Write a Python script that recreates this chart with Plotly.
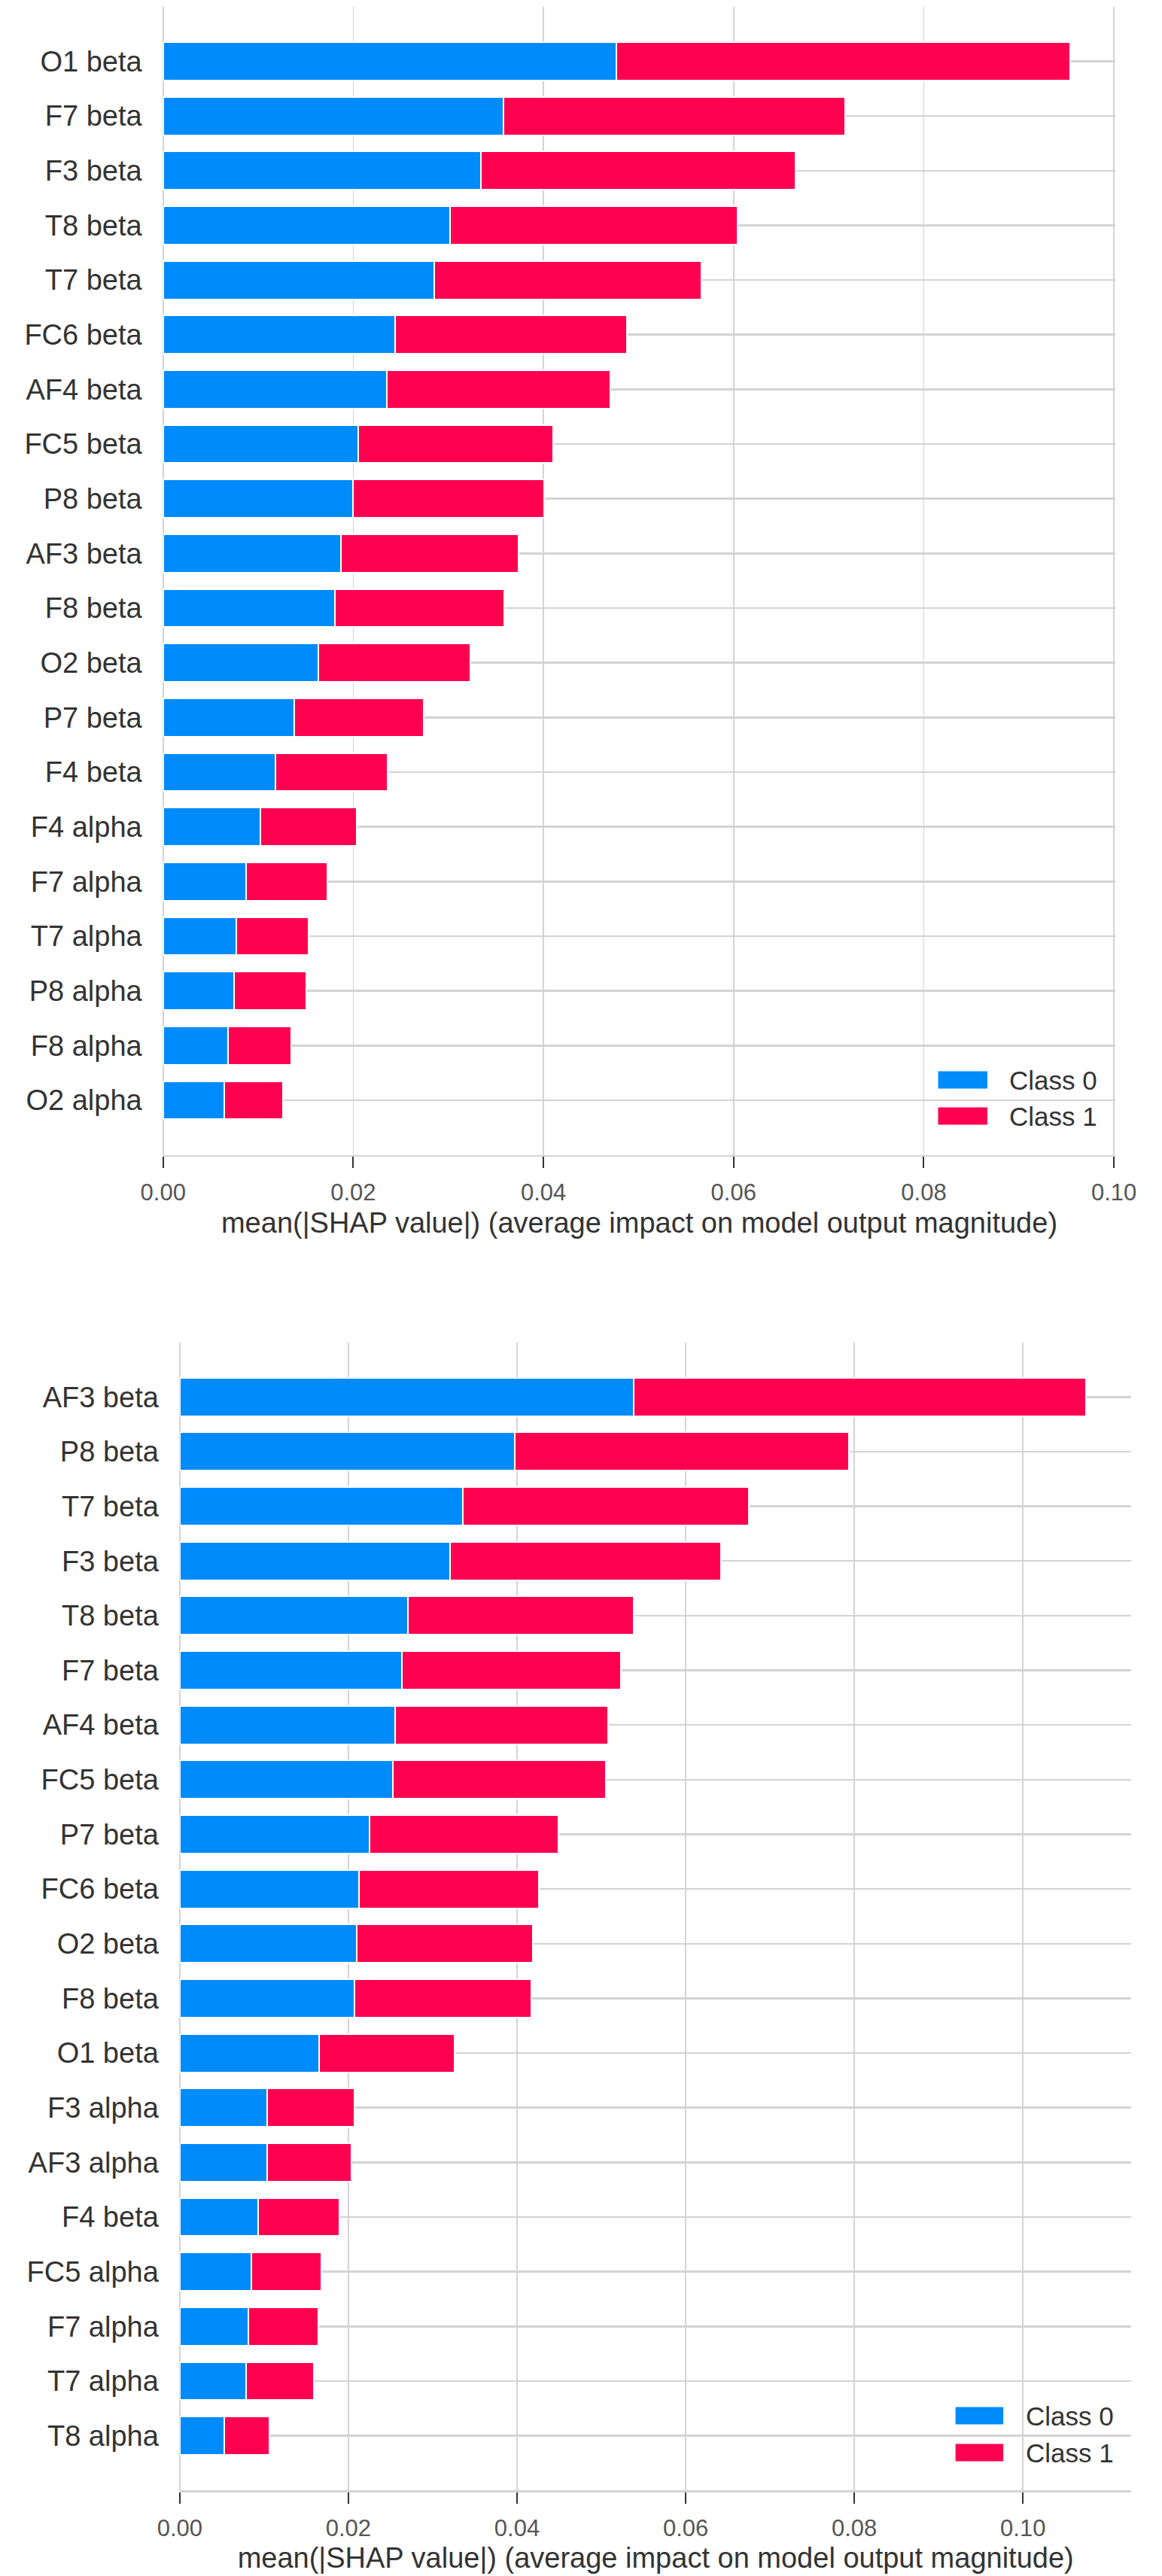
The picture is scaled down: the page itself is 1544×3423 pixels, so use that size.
import plotly.graph_objects as go

# ---------------- data ----------------
top_features = ["O1 beta", "F7 beta", "F3 beta", "T8 beta", "T7 beta", "FC6 beta", "AF4 beta",
                "FC5 beta", "P8 beta", "AF3 beta", "F8 beta", "O2 beta", "P7 beta", "F4 beta",
                "F4 alpha", "F7 alpha", "T7 alpha", "P8 alpha", "F8 alpha", "O2 alpha"]
top_class0 = [0.0477, 0.0358, 0.0334, 0.0302, 0.0285, 0.0244, 0.0235, 0.0205, 0.0200, 0.0187,
              0.0181, 0.0163, 0.0138, 0.0118, 0.0102, 0.0087, 0.0077, 0.0075, 0.0068, 0.0064]
top_class1 = [0.0477, 0.0359, 0.0331, 0.0302, 0.0281, 0.0244, 0.0235, 0.0205, 0.0201, 0.0187,
              0.0178, 0.0160, 0.0136, 0.0118, 0.0102, 0.0086, 0.0076, 0.0076, 0.0067, 0.0062]

bot_features = ["AF3 beta", "P8 beta", "T7 beta", "F3 beta", "T8 beta", "F7 beta", "AF4 beta",
                "FC5 beta", "P7 beta", "FC6 beta", "O2 beta", "F8 beta", "O1 beta", "F3 alpha",
                "AF3 alpha", "F4 beta", "FC5 alpha", "F7 alpha", "T7 alpha", "T8 alpha"]
bot_class0 = [0.0538, 0.0397, 0.0336, 0.0321, 0.0271, 0.0263, 0.0255, 0.0253, 0.0225, 0.0213,
              0.0210, 0.0207, 0.0165, 0.0104, 0.0104, 0.0093, 0.0085, 0.0081, 0.0079, 0.0053]
bot_class1 = [0.0537, 0.0397, 0.0339, 0.0321, 0.0267, 0.0260, 0.0253, 0.0252, 0.0224, 0.0213,
              0.0209, 0.0210, 0.0161, 0.0103, 0.0100, 0.0096, 0.0083, 0.0083, 0.0080, 0.0053]

class_names = ["Class 0", "Class 1"]
x_ticks = [0.0, 0.02, 0.04, 0.06, 0.08, 0.10]
x_title = "mean(|SHAP value|) (average impact on model output magnitude)"

# ---------------- style ----------------
W, H = 1544, 3423
BLUE = "#008bfb"
RED = "#ff0051"
GRID = "#d3d3d3"
FONT = "Liberation Sans, Arial, sans-serif"

def px_x(p):
    return p / W

def px_y(p):
    return 1 - p / H

fig = go.Figure()

panels = [
    (top_features, top_class0, top_class1, "x", "y"),
    (bot_features, bot_class0, bot_class1, "x2", "y2"),
]
colors = [BLUE, RED]
for feats, c0, c1, xa, ya in panels:
    for name, vals, col in zip(class_names, [c0, c1], colors):
        fig.add_trace(go.Bar(
            y=feats, x=vals, orientation="h", name=name,
            marker=dict(color=col, line=dict(color="white", width=2)),
            width=0.7, xaxis=xa, yaxis=ya, showlegend=False, hoverinfo="skip",
        ))

top_max = max(a + b for a, b in zip(top_class0, top_class1)) * 1.05
bot_max = max(a + b for a, b in zip(bot_class0, bot_class1)) * 1.05

def xaxis_cfg(domain, rng, anchor):
    return dict(
        domain=domain, range=[0, rng], anchor=anchor,
        tickvals=x_ticks, tickformat=".2f",
        showgrid=True, gridcolor=GRID, gridwidth=1.6,
        zeroline=True, zerolinecolor=GRID, zerolinewidth=1.6,
        showline=True, linecolor=GRID, linewidth=2.5,
        ticks="outside", ticklen=15, tickwidth=2, tickcolor="#333333",
        tickfont=dict(size=31, color="#555555", family=FONT),
        ticklabelstandoff=6,
        title=dict(text=x_title, font=dict(size=38, color="#333333", family=FONT), standoff=10),
        fixedrange=True,
    )

def yaxis_cfg(domain, feats, anchor):
    return dict(
        domain=domain, anchor=anchor, type="category",
        categoryorder="array", categoryarray=feats[::-1],
        range=[-1, len(feats)],
        showgrid=True, gridcolor=GRID, gridwidth=2.5,
        zeroline=False, showline=False, ticks="",
        tickfont=dict(size=38, color="#333333", family=FONT),
        ticklabelstandoff=27,
        fixedrange=True,
    )

fig.update_layout(
    width=W, height=H,
    margin=dict(l=0, r=0, t=0, b=0),
    paper_bgcolor="white", plot_bgcolor="white",
    barmode="stack", bargap=0.3,
    font=dict(family=FONT, color="#333333"),
    xaxis=xaxis_cfg([px_x(194), px_x(1509)], top_max, "y"),
    yaxis=yaxis_cfg([px_y(1534.6), px_y(8.8)], top_features, "x"),
    xaxis2=xaxis_cfg([px_x(217), px_x(1531)], bot_max, "y2"),
    yaxis2=yaxis_cfg([px_y(3309.3), px_y(1783.6)], bot_features, "x2"),
    showlegend=False,
    hovermode=False,
)

# legend patches (one per panel), drawn in paper space
legend_specs = [
    (1264, 1332, 1360, [1435, 1483]),
    (1288, 1354, 1383, [3210, 3259]),
]
shapes = []
annots = []
for x0, x1, xt, ys in legend_specs:
    for name, col, yc in zip(class_names, colors, ys):
        shapes.append(dict(type="rect", xref="paper", yref="paper",
                           x0=px_x(x0), x1=px_x(x1), y0=px_y(yc + 11.5), y1=px_y(yc - 11.5),
                           fillcolor=col, line=dict(width=0), layer="above"))
        annots.append(dict(xref="paper", yref="paper", x=px_x(xt), y=px_y(yc),
                           text=name, showarrow=False, xanchor="left", yanchor="middle",
                           font=dict(size=35, color="#333333", family=FONT)))
fig.update_layout(shapes=shapes, annotations=annots)

fig.write_html("out.html", config={"displayModeBar": False, "staticPlot": True},
               post_script="document.body.style.margin='0';document.body.style.overflow='hidden';")
